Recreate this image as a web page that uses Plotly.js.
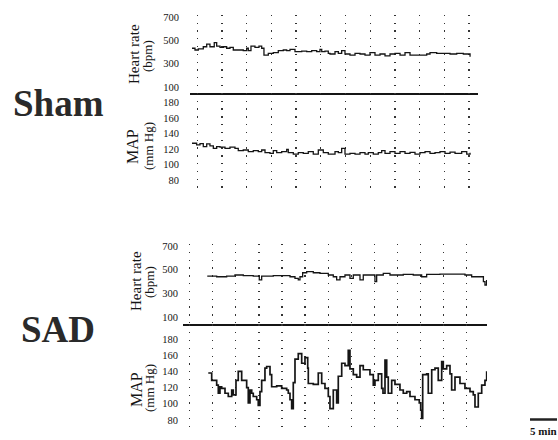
<!DOCTYPE html>
<html><head><meta charset="utf-8">
<script src="https://cdn.plot.ly/plotly-3.0.1.min.js"></script>
<style>html,body{margin:0;padding:0;background:#fff;} #chart{width:558px;height:440px;}</style>
</head><body><div id="chart"></div>
<script>
// ---------- data (time in minutes) ----------
const groupLabels = ['Sham', 'SAD'];
const hrTickVals = [100, 300, 500, 700];
const hrTickText = ['100', '300', '500', '700'];
const mapTickVals = [80, 100, 120, 140, 160, 180];
const mapTickText = ['80', '100', '120', '140', '160', '180'];

const shamHrTime = [0, 0.61, 1.28, 2.29, 2.98, 3.64, 4.51, 5.0, 5.67, 6.34, 7.02, 7.69, 8.36, 9.37, 10.38, 11.07, 11.4, 11.94, 12.75, 13.56, 14.11, 14.57, 15.45, 16.46, 17.47, 18.48, 19.17, 19.84, 20.85, 22.21, 23.22, 24.23, 25.24, 25.91, 26.26, 26.92, 27.59, 27.94, 28.95, 29.62, 30.3, 30.97, 31.98, 33.0, 34.01, 35.02, 36.03, 37.04, 38.06, 39.07, 40.08, 41.09, 42.11, 43.12, 44.13, 45.49, 46.5, 47.51, 48.18, 49.53, 50.87, 52.23, 53.58, 54.92, 56.28];
const shamHrBpm = [432, 417, 426, 445, 468, 445, 480, 451, 440, 445, 432, 440, 417, 417, 411, 432, 411, 451, 440, 451, 432, 374, 389, 394, 411, 417, 411, 423, 403, 408, 403, 411, 403, 423, 403, 408, 389, 383, 403, 389, 411, 383, 374, 389, 383, 374, 394, 374, 383, 366, 383, 389, 374, 394, 374, 374, 374, 383, 394, 389, 389, 383, 389, 383, 360];

const shamMapTime = [0, 0.94, 1.62, 2.29, 2.98, 3.64, 4.32, 5.0, 5.67, 6.68, 7.69, 8.7, 9.37, 10.38, 11.4, 12.41, 13.42, 14.11, 14.78, 15.79, 16.46, 17.15, 18.16, 19.17, 19.49, 20.51, 21.52, 22.53, 23.54, 24.55, 25.57, 26.58, 27.59, 27.94, 28.95, 29.62, 30.3, 30.97, 31.98, 33.0, 34.01, 35.02, 35.69, 36.7, 37.71, 38.4, 39.07, 40.08, 41.09, 42.11, 43.12, 44.13, 45.14, 46.15, 47.17, 48.18, 49.19, 50.2, 51.21, 52.23, 53.24, 54.59, 55.61, 56.28];
const shamMapMmHg = [127.4, 125.2, 127, 123, 126.5, 124, 120.9, 123, 122.4, 120.9, 122.4, 120.9, 117.8, 118.7, 116.5, 117.8, 116.5, 118.7, 115.2, 114.4, 117.8, 115.2, 116.5, 119.5, 115.2, 113.5, 115.2, 114.4, 116.5, 113.5, 118.7, 115.2, 113.5,
  113.5, 116.5, 115.2, 120.9, 113.5, 114.4, 113.5, 115.2, 113.5, 115.2, 113.5, 115.2, 117.8, 114.4, 116.5, 114.4, 116.5, 114.4, 115.6, 113.5, 115.2, 116.5, 114.4, 115.2, 116.5, 114.4, 116, 114.4, 116.5, 113.5, 115.2];

const sadHrTime = [0.06, 2.10, 4.26, 6.06, 7.86, 10.02, 11.32, 11.84, 14.35, 16.52, 17.97, 19.05, 19.76, 20.13, 20.71, 21.58, 23.01, 24.46, 26.26, 27.34, 28.07, 28.79, 29.87, 30.95, 31.67, 33.12, 33.83, 36.0, 36.36, 36.73, 38.16, 39.61, 42.49, 44.65, 46.47, 47.55, 50.43, 53.31, 55.84, 57.29, 59.09, 59.83, 60.17, 60.52];
const sadHrBpm = [447, 441, 447, 456, 450, 447, 414, 447, 450, 450, 441, 428, 414, 441, 475, 484, 475, 470, 456, 441, 414, 441, 456, 428, 456, 414, 456, 456, 400, 456, 470, 456, 461, 456, 441, 461, 464, 464, 456, 441, 441, 400, 371, 414];

const sadMapTime = [0.28, 1.02, 2.10, 2.45, 2.81, 3.18, 3.90, 4.61, 5.35, 5.69,
  6.28, 6.77, 7.51, 8.59, 8.94, 9.31, 9.68, 10.02, 10.76, 11.10,
  11.47, 11.84, 12.55, 12.92, 13.64, 14.00, 15.09, 16.17, 17.25, 17.60,
  17.97, 18.33, 18.68, 19.05, 19.76, 20.50, 21.21, 21.80, 21.93, 23.01,
  24.09, 24.83, 25.54, 26.26, 26.62, 27.34, 28.07, 28.42, 29.16, 29.87,
  30.58, 30.95, 31.67, 32.40, 33.12, 33.83, 34.57, 35.28, 36.00, 36.36,
  37.08, 37.81, 38.10, 38.53, 38.90, 39.24, 39.98, 40.69, 41.77, 42.49,
  43.23, 43.94, 45.02, 45.95, 46.26, 46.47, 46.69, 47.55, 47.90, 48.64,
  49.35, 50.06, 50.80, 51.15, 51.88, 52.60, 52.96, 53.68, 54.76, 55.84,
  56.93, 57.64, 58.01, 58.72, 59.46, 60.17, 60.54];
const sadMapMmHg = [138, 129, 123, 113, 121, 119, 113, 109, 117, 111,
  129, 140, 129, 120, 101, 117, 113, 109, 105, 98,
  115, 129, 144, 146, 136, 121, 122, 119, 117, 113,
  105, 94, 126, 155, 162, 150, 157, 144, 125, 124,
  138, 125, 119, 109, 94, 117, 101, 134, 150, 147,
  166, 143, 136, 133, 147, 142, 142, 136, 123, 129,
  137, 119, 113, 154, 133, 113, 129, 124, 117, 113,
  115, 109, 105, 101, 92, 82, 136, 137, 113, 142,
  144, 129, 152, 143, 147, 137, 117, 133, 125, 119,
  115, 111, 96, 113, 123, 129, 140];

// ---------- layout helpers (pixel -> paper) ----------
const W = 558, H = 440;
const px = x => x / W;
const py = y => 1 - y / H;
const SERIF = '"Liberation Serif", "DejaVu Serif", serif';
const INK = '#151515';

const lineStyle = {color: INK, width: 1.3, shape: 'hv'};
const traces = [
  {x: shamHrTime, y: shamHrBpm, xaxis: 'x', yaxis: 'y', mode: 'lines', line: lineStyle, hoverinfo: 'skip'},
  {x: shamMapTime, y: shamMapMmHg, xaxis: 'x', yaxis: 'y2', mode: 'lines', line: lineStyle, hoverinfo: 'skip'},
  {x: sadHrTime, y: sadHrBpm, xaxis: 'x2', yaxis: 'y3', mode: 'lines', line: lineStyle, hoverinfo: 'skip'},
  {x: sadMapTime, y: sadMapMmHg, xaxis: 'x2', yaxis: 'y4', mode: 'lines', line: {color: INK, width: 1.7, shape: 'hv'}, hoverinfo: 'skip'}
];

const xBase = {
  showgrid: true, gridcolor: '#333', gridwidth: 1.3, griddash: '1.3px,6.5px',
  zeroline: false, showticklabels: false, ticks: '', dtick: 5,
  showline: true, linecolor: INK, linewidth: 2, fixedrange: true
};
const yBase = {
  showgrid: false, zeroline: false, showline: false, automargin: false,
  tickfont: {family: SERIF, size: 10.5, color: INK}, fixedrange: true
};

const layout = {
  width: W, height: H,
  margin: {l: 0, r: 0, t: 0, b: 0, pad: 0},
  paper_bgcolor: '#ffffff', plot_bgcolor: 'rgba(0,0,0,0)',
  showlegend: false,
  font: {family: SERIF, color: INK},
  xaxis: Object.assign({}, xBase, {domain: [px(190), px(478)], range: [-0.40, 57.89], tick0: 1.07, anchor: 'y'}),
  xaxis2: Object.assign({}, xBase, {domain: [px(183), px(487)], range: [-5.19, 60.61], tick0: 1.23, anchor: 'y3'}),
  yaxis: Object.assign({}, yBase, {domain: [py(92.8), py(14.7)], range: [50, 720], anchor: 'x',
    tickvals: hrTickVals, ticktext: hrTickText, ticks: 'outside', ticklen: 8, tickcolor: 'rgba(0,0,0,0)'}),
  yaxis2: Object.assign({}, yBase, {domain: [py(190), py(92.8)], range: [67.1, 192.5], anchor: 'x',
    tickvals: mapTickVals, ticktext: mapTickText, ticks: 'outside', ticklen: 8, tickcolor: 'rgba(0,0,0,0)'}),
  yaxis3: Object.assign({}, yBase, {domain: [py(324.3), py(244)], range: [38.1, 718.6], anchor: 'x2',
    tickvals: hrTickVals, ticktext: hrTickText, ticks: 'outside', ticklen: 2, tickcolor: 'rgba(0,0,0,0)'}),
  yaxis4: Object.assign({}, yBase, {domain: [py(428), py(324.3)], range: [70.1, 198.1], anchor: 'x2',
    tickvals: mapTickVals, ticktext: mapTickText, ticks: 'outside', ticklen: 2, tickcolor: 'rgba(0,0,0,0)'}),
  annotations: [
    {text: groupLabels[0], xref: 'paper', yref: 'paper', x: px(58), y: py(104), showarrow: false,
      xanchor: 'center', yanchor: 'middle', font: {family: SERIF, size: 37, weight: 'bold', color: '#2a2a2a'}},
    {text: groupLabels[1], xref: 'paper', yref: 'paper', x: px(58), y: py(329), showarrow: false,
      xanchor: 'center', yanchor: 'middle', font: {family: SERIF, size: 37, weight: 'bold', color: '#2a2a2a'}},
    {text: 'Heart rate', xref: 'paper', yref: 'paper', x: px(134), y: py(54), textangle: -90, showarrow: false,
      xanchor: 'center', yanchor: 'middle', font: {family: SERIF, size: 15}},
    {text: '(bpm)', xref: 'paper', yref: 'paper', x: px(148), y: py(56), textangle: -90, showarrow: false,
      xanchor: 'center', yanchor: 'middle', font: {family: SERIF, size: 13}},
    {text: 'MAP', xref: 'paper', yref: 'paper', x: px(132), y: py(147), textangle: -90, showarrow: false,
      xanchor: 'center', yanchor: 'middle', font: {family: SERIF, size: 16}},
    {text: '(mm Hg)', xref: 'paper', yref: 'paper', x: px(148), y: py(146), textangle: -90, showarrow: false,
      xanchor: 'center', yanchor: 'middle', font: {family: SERIF, size: 13}},
    {text: 'Heart rate', xref: 'paper', yref: 'paper', x: px(136), y: py(281), textangle: -90, showarrow: false,
      xanchor: 'center', yanchor: 'middle', font: {family: SERIF, size: 15}},
    {text: '(bpm)', xref: 'paper', yref: 'paper', x: px(149), y: py(282), textangle: -90, showarrow: false,
      xanchor: 'center', yanchor: 'middle', font: {family: SERIF, size: 13}},
    {text: 'MAP', xref: 'paper', yref: 'paper', x: px(136), y: py(390), textangle: -90, showarrow: false,
      xanchor: 'center', yanchor: 'middle', font: {family: SERIF, size: 16}},
    {text: '(mm Hg)', xref: 'paper', yref: 'paper', x: px(149), y: py(388), textangle: -90, showarrow: false,
      xanchor: 'center', yanchor: 'middle', font: {family: SERIF, size: 13}},
    {text: '5 min', xref: 'paper', yref: 'paper', x: px(543), y: py(431), showarrow: false,
      xanchor: 'center', yanchor: 'middle', font: {family: SERIF, size: 11, weight: 'bold'}}
  ],
  shapes: [
    {type: 'line', xref: 'paper', yref: 'paper', x0: px(530), x1: px(557), y0: py(419.5), y1: py(419.5),
      line: {color: '#222', width: 2.5}}
  ]
};

Plotly.newPlot('chart', traces, layout, {staticPlot: true, displayModeBar: false});
</script>
</body></html>
